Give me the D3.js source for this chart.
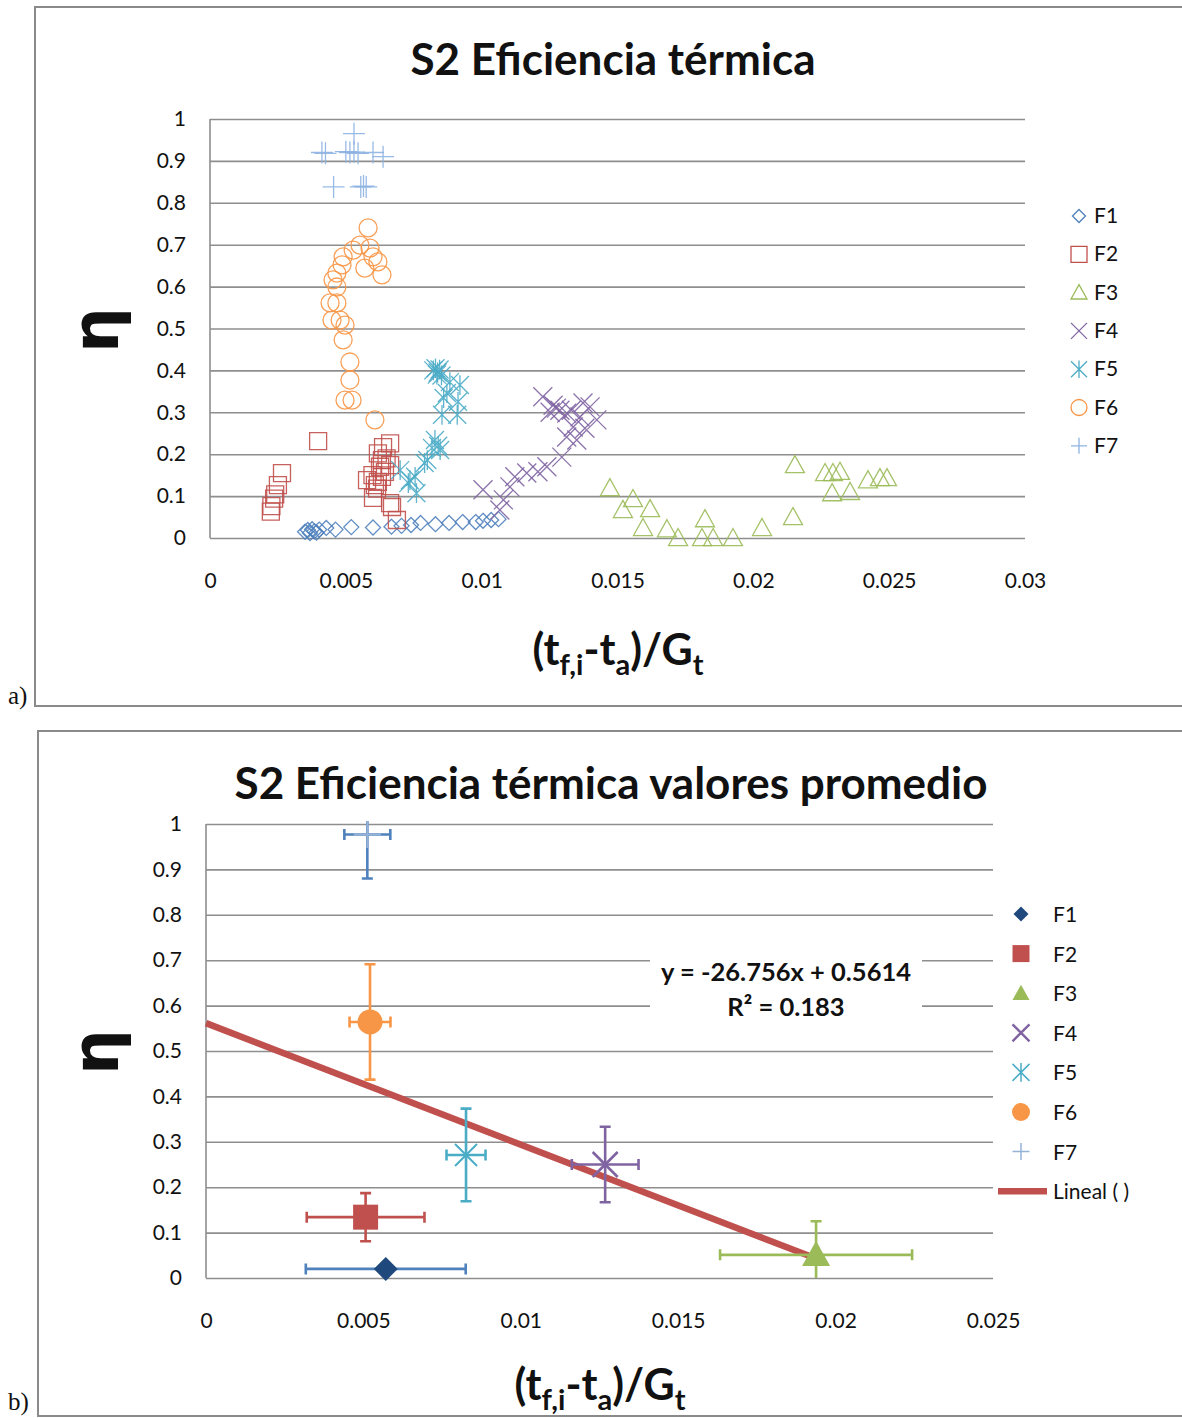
<!DOCTYPE html>
<html>
<head>
<meta charset="utf-8">
<script src="https://cdn.jsdelivr.net/npm/d3@7"></script>
<style>
  html, body { margin: 0; padding: 0; background: #fff; }
  svg { display: block; }
</style>
</head>
<body>
<svg id="chart" width="1182" height="1418"></svg>
<script>
// ---- Panel a) : individual measurements, [x, eta] ----
const f1Points = [[0.00350,0.015],[0.00360,0.019],[0.00368,0.012],[0.00376,0.021],[0.00384,0.016],[0.00392,0.013],[0.00402,0.020],[0.00428,0.024],[0.00462,0.020],[0.00520,0.026],[0.00600,0.025],[0.00668,0.027],[0.00705,0.029],[0.00740,0.031],[0.00775,0.036],[0.00830,0.033],[0.00880,0.036],[0.00930,0.038],[0.00978,0.038],[0.01005,0.041],[0.01035,0.043],[0.01062,0.045]];
const f2Points = [[0.00398,0.231],[0.00265,0.155],[0.00250,0.126],[0.00240,0.104],[0.00236,0.094],[0.00226,0.076],[0.00224,0.063],[0.00663,0.226],[0.00637,0.217],[0.00618,0.202],[0.00633,0.186],[0.00663,0.174],[0.00626,0.170],[0.00644,0.158],[0.00633,0.146],[0.00578,0.138],[0.00618,0.134],[0.00607,0.126],[0.00615,0.118],[0.00600,0.096],[0.00663,0.083],[0.00670,0.074],[0.00688,0.043],[0.00598,0.150],[0.00650,0.190]];
const f3Points = [[0.01472,0.119],[0.01557,0.093],[0.01520,0.067],[0.01620,0.069],[0.01594,0.024],[0.01682,0.021],[0.01723,0.000],[0.01822,0.045],[0.01811,0.000],[0.01852,0.000],[0.01925,0.000],[0.02032,0.024],[0.02146,0.050],[0.02153,0.174],[0.02264,0.155],[0.02293,0.155],[0.02319,0.158],[0.02290,0.107],[0.02356,0.110],[0.02422,0.138],[0.02466,0.143],[0.02492,0.143]];
const f4Points = [[0.01225,0.337],[0.01263,0.317],[0.01288,0.305],[0.01252,0.300],[0.01313,0.298],[0.01373,0.322],[0.01399,0.313],[0.01362,0.289],[0.01424,0.282],[0.01337,0.265],[0.01380,0.262],[0.01313,0.241],[0.01350,0.234],[0.01295,0.193],[0.01240,0.170],[0.01207,0.158],[0.01166,0.155],[0.01122,0.146],[0.01104,0.122],[0.01005,0.115],[0.01080,0.091],[0.01067,0.067],[0.01275,0.310],[0.01330,0.305]];
const f5Points = [[0.00822,0.400],[0.00830,0.405],[0.00838,0.395],[0.00845,0.402],[0.00852,0.388],[0.00835,0.390],[0.00883,0.372],[0.00920,0.365],[0.00872,0.346],[0.00913,0.325],[0.00860,0.334],[0.00854,0.294],[0.00910,0.294],[0.00828,0.234],[0.00847,0.210],[0.00817,0.215],[0.00790,0.179],[0.00755,0.146],[0.00736,0.138],[0.00760,0.107],[0.00700,0.162],[0.00730,0.131],[0.00800,0.186],[0.00840,0.220]];
const f6Points = [[0.00582,0.740],[0.00552,0.699],[0.00527,0.687],[0.00490,0.671],[0.00589,0.692],[0.00600,0.671],[0.00618,0.659],[0.00570,0.644],[0.00486,0.652],[0.00467,0.632],[0.00633,0.628],[0.00453,0.616],[0.00467,0.599],[0.00442,0.561],[0.00467,0.561],[0.00449,0.520],[0.00479,0.520],[0.00497,0.508],[0.00490,0.473],[0.00515,0.420],[0.00515,0.377],[0.00497,0.329],[0.00523,0.329],[0.00607,0.282]];
const f7Points = [[0.00530,0.965],[0.00412,0.920],[0.00425,0.918],[0.00500,0.922],[0.00515,0.920],[0.00530,0.921],[0.00545,0.918],[0.00600,0.920],[0.00637,0.910],[0.00455,0.838],[0.00555,0.838],[0.00565,0.840],[0.00575,0.838]];

// ---- Panel b) : averages with standard deviations ----
const seriesNames = ["F1", "F2", "F3", "F4", "F5", "F6", "F7"];
const meanX = [0.00571, 0.00507, 0.01938, 0.01268, 0.00826, 0.00521, 0.005125];
const meanEta = [0.020, 0.134, 0.051, 0.250, 0.271, 0.564, 0.977];
const errX = [0.00254, 0.00187, 0.00305, 0.00106, 0.00062, 0.00065, 0.00073];
const errEta = [0.010, 0.053, 0.074, 0.083, 0.102, 0.127, 0.097];
const trendSlope = -26.756;
const trendIntercept = 0.5614;
const trendR2 = 0.183;

// ---- Axis ticks ----
const etaTicks = [0, 0.1, 0.2, 0.3, 0.4, 0.5, 0.6, 0.7, 0.8, 0.9, 1];
const xTicksA = [0, 0.005, 0.01, 0.015, 0.02, 0.025, 0.03];
const xTicksB = [0, 0.005, 0.01, 0.015, 0.02, 0.025];

// ---- Styling ----
const colors = {
  F1: "#4F81BD", F2: "#C0504D", F3: "#9BBB59", F4: "#8064A2",
  F5: "#4BACC6", F6: "#F79646", F7: "#8DB3E2"
};
const shapes = { F1: "diamond", F2: "square", F3: "triangle", F4: "x", F5: "asterisk", F6: "circle", F7: "plus" };
const gridColor = "#8e8e8e";
const font = "Lato, 'Open Sans', sans-serif";

const svg = d3.select("#chart");

function markerPath(type, s) {
  const h = s / 2;
  switch (type) {
    case "diamond": return `M0,${-h}L${h},0L0,${h}L${-h},0Z`;
    case "square": return `M${-h},${-h}H${h}V${h}H${-h}Z`;
    case "triangle": return `M0,${-h}L${h},${h * 0.8}L${-h},${h * 0.8}Z`;
    case "x": return `M${-h},${-h}L${h},${h}M${-h},${h}L${h},${-h}`;
    case "asterisk": return `M${-h},${-h}L${h},${h}M${-h},${h}L${h},${-h}M0,${-h * 1.1}L0,${h * 1.1}`;
    case "plus": return `M${-h},0H${h}M0,${-h}V${h}`;
    case "circle": return `M${h},0A${h},${h} 0 1,1 ${-h},0A${h},${h} 0 1,1 ${h},0Z`;
  }
}

function frame(x, y1, y2) {
  svg.append("path")
    .attr("d", `M1182,${y1}H${x}V${y2}H1182`)
    .attr("fill", "none").attr("stroke", "#8a8a8a").attr("stroke-width", 2);
}

function axisTitle(g, cx, cy) {
  const t = g.append("text").attr("x", cx).attr("y", cy)
    .attr("text-anchor", "middle").attr("font-family", font)
    .attr("font-weight", "bold").attr("font-size", 43).attr("fill", "#111");
  t.append("tspan").text("(t");
  t.append("tspan").attr("dy", 10).attr("font-size", 29).text("f,i");
  t.append("tspan").attr("dy", -10).text("-t");
  t.append("tspan").attr("dy", 10).attr("font-size", 29).text("a");
  t.append("tspan").attr("dy", -10).text(")/G");
  t.append("tspan").attr("dy", 10).attr("font-size", 29).text("t");
}

function gridAndAxes(area, x, y, xTicks, xLabelY) {
  const g = svg.append("g");
  // horizontal gridlines
  g.append("g")
    .attr("transform", `translate(${area.left},0)`)
    .call(d3.axisLeft(y).tickValues(etaTicks).tickSize(-(area.right - area.left)).tickFormat(""))
    .call(s => s.select(".domain").remove())
    .call(s => s.selectAll("line").attr("stroke", gridColor).attr("stroke-width", 1.6));
  // y labels
  g.append("g")
    .attr("transform", `translate(${area.left},0)`)
    .call(d3.axisLeft(y).tickValues(etaTicks).tickSize(0).tickPadding(24).tickFormat(d3.format("~g")))
    .call(s => s.select(".domain").remove())
    .call(s => s.selectAll("text").attr("font-family", font).attr("font-size", 21).attr("fill", "#111"));
  // vertical axis line
  g.append("line").attr("x1", area.left).attr("x2", area.left)
    .attr("y1", area.top).attr("y2", area.bottom)
    .attr("stroke", gridColor).attr("stroke-width", 1.6);
  // x labels
  g.append("g")
    .attr("transform", `translate(0,${xLabelY})`)
    .call(d3.axisBottom(x).tickValues(xTicks).tickSize(0).tickPadding(0).tickFormat(d3.format("~g")))
    .call(s => s.select(".domain").remove())
    .call(s => s.selectAll("text").attr("font-family", font).attr("font-size", 21).attr("fill", "#111"));
  return g;
}

function titleText(txt, cx, cy) {
  svg.append("text").attr("x", cx).attr("y", cy).attr("text-anchor", "middle")
    .attr("font-family", font).attr("font-weight", "bold").attr("font-size", 44)
    .attr("fill", "#111").text(txt);
}

function etaLabel(cx, cy) {
  svg.append("text").attr("transform", `translate(${cx},${cy}) rotate(-90)`)
    .attr("text-anchor", "middle").attr("font-family", "'DejaVu Sans', sans-serif")
    .attr("font-weight", "bold").attr("font-size", 64).attr("fill", "#111").text("η");
}

// ================= Panel a) =================
const areaA = { left: 210, right: 1025, top: 119, bottom: 538 };
const xA = d3.scaleLinear().domain([0, 0.03]).range([areaA.left, areaA.right]);
const yA = d3.scaleLinear().domain([0, 1]).range([areaA.bottom, areaA.top]);

frame(35, 7, 706);
titleText("S2 Eficiencia térmica", 613, 75);
gridAndAxes(areaA, xA, yA, xTicksA, 573);
etaLabel(118, 330);
axisTitle(svg, 618, 665);

const rawSeries = [f1Points, f2Points, f3Points, f4Points, f5Points, f6Points, f7Points];
const markerSizeA = { F1: 15, F2: 17, F3: 19, F4: 19, F5: 18, F6: 18, F7: 22 };
rawSeries.forEach((pts, i) => {
  const name = seriesNames[i];
  svg.append("g").selectAll("path").data(pts).join("path")
    .attr("transform", d => `translate(${xA(d[0])},${yA(d[1])})`)
    .attr("d", markerPath(shapes[name], markerSizeA[name]))
    .attr("fill", "none").attr("stroke", colors[name]).attr("stroke-width", 1.3)
    .attr("stroke-opacity", 0.9);
});

// legend a)
seriesNames.forEach((name, i) => {
  const ly = 216 + i * 38.3;
  svg.append("path").attr("transform", `translate(1079,${ly})`)
    .attr("d", markerPath(shapes[name], name === "F1" ? 13 : 16))
    .attr("fill", "none").attr("stroke", colors[name]).attr("stroke-width", 1.3);
  svg.append("text").attr("x", 1094).attr("y", ly + 7).attr("font-family", font)
    .attr("font-size", 21).attr("fill", "#111").text(name);
});

svg.append("text").attr("x", 8).attr("y", 704).attr("font-family", "'Liberation Serif', serif")
  .attr("font-size", 25).attr("fill", "#111").text("a)");

// ================= Panel b) =================
const areaB = { left: 206, right: 993, top: 824, bottom: 1278 };
const xB = d3.scaleLinear().domain([0, 0.025]).range([areaB.left, areaB.right]);
const yB = d3.scaleLinear().domain([0, 1]).range([areaB.bottom, areaB.top]);

frame(38, 731, 1416);
titleText("S2 Eficiencia térmica valores promedio", 611, 799);
gridAndAxes(areaB, xB, yB, xTicksB, 1313);
etaLabel(118, 1052);
axisTitle(svg, 600, 1400);

svg.append("defs").append("clipPath").attr("id", "clipB")
  .append("rect").attr("x", areaB.left - 40).attr("y", areaB.top - 3)
  .attr("width", areaB.right - areaB.left + 80).attr("height", areaB.bottom - areaB.top + 3);

// equation label (with white backing that interrupts gridlines)
svg.append("rect").attr("x", 650).attr("y", 950).attr("width", 272).attr("height", 74).attr("fill", "#fff");
const eq = svg.append("text").attr("font-family", font).attr("font-weight", "bold")
  .attr("font-size", 25.5).attr("fill", "#111").attr("text-anchor", "middle");
eq.append("tspan").attr("x", 786).attr("y", 981)
  .text(`y = ${trendSlope}x + ${trendIntercept}`);
eq.append("tspan").attr("x", 786).attr("y", 1016).text(`R² = ${trendR2}`);

// trendline from x = 0 to the largest mean x
const trendX = [0, d3.max(meanX)];
svg.append("line")
  .attr("x1", xB(trendX[0])).attr("y1", yB(trendSlope * trendX[0] + trendIntercept))
  .attr("x2", xB(trendX[1])).attr("y2", yB(trendSlope * trendX[1] + trendIntercept))
  .attr("stroke", "#C0504D").attr("stroke-width", 6.5);

const barColors = { F1: "#4F81BD", F2: "#C0504D", F3: "#9BBB59", F4: "#8064A2", F5: "#4BACC6", F6: "#F79646", F7: "#4F81BD" };
const fillColors = { F1: "#1F497D", F2: "#C0504D", F3: "#9BBB59", F6: "#F79646" };
const markerSizeB = { F1: 24, F2: 25, F3: 28, F4: 25, F5: 22, F6: 25, F7: 27 };

const eb = svg.append("g").attr("clip-path", "url(#clipB)");
seriesNames.forEach((name, i) => {
  const cx = xB(meanX[i]), cy = yB(meanEta[i]);
  const x0 = xB(meanX[i] - errX[i]), x1 = xB(meanX[i] + errX[i]);
  const y0 = yB(meanEta[i] - errEta[i]), y1 = yB(meanEta[i] + errEta[i]);
  const c = barColors[name], cap = 5.5;
  const d = `M${x0},${cy}H${x1}M${x0},${cy - cap}V${cy + cap}M${x1},${cy - cap}V${cy + cap}` +
            `M${cx},${y0}V${y1}M${cx - cap},${y0}H${cx + cap}M${cx - cap},${y1}H${cx + cap}`;
  eb.append("path").attr("d", d).attr("fill", "none").attr("stroke", c).attr("stroke-width", 2.6);
});

seriesNames.forEach((name, i) => {
  const cx = xB(meanX[i]), cy = yB(meanEta[i]);
  const filled = fillColors[name];
  const col = name === "F7" ? "#95B3D7" : colors[name];
  svg.append("path").attr("transform", `translate(${cx},${cy})`)
    .attr("d", markerPath(shapes[name], markerSizeB[name]))
    .attr("fill", filled || "none")
    .attr("stroke", filled ? "none" : col)
    .attr("stroke-width", name === "F4" ? 2.6 : 2);
});

// legend b)
const legendB = seriesNames.concat(["Lineal ( )"]);
legendB.forEach((name, i) => {
  const ly = 914 + i * 39.6;
  if (i < 7) {
    const filled = fillColors[name];
    const col = name === "F7" ? "#95B3D7" : colors[name];
    svg.append("path").attr("transform", `translate(1021,${ly})`)
      .attr("d", markerPath(shapes[name], name === "F1" ? 15 : (name === "F6" ? 18 : 17)))
      .attr("fill", filled || "none").attr("stroke", filled ? "none" : col)
      .attr("stroke-width", name === "F4" ? 2.4 : 1.5);
  } else {
    svg.append("line").attr("x1", 998).attr("x2", 1047).attr("y1", ly).attr("y2", ly)
      .attr("stroke", "#C0504D").attr("stroke-width", 6.5);
  }
  svg.append("text").attr("x", 1053).attr("y", ly + 8).attr("font-family", font)
    .attr("font-size", 21).attr("fill", "#111").text(name);
});

svg.append("text").attr("x", 8).attr("y", 1410).attr("font-family", "'Liberation Serif', serif")
  .attr("font-size", 25).attr("fill", "#111").text("b)");
</script>
</body>
</html>
